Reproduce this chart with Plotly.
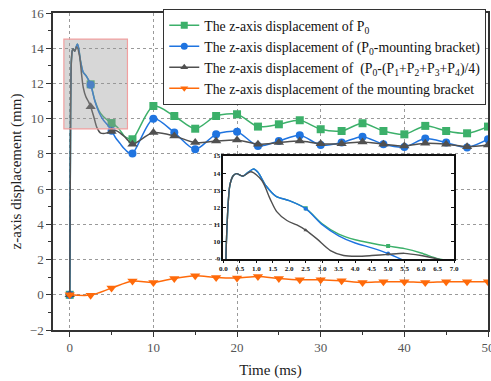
import plotly.graph_objects as go

# ---------------- data ----------------
# marker samples every 2.5 ms
t_mark = [0, 2.5, 5, 7.5, 10, 12.5, 15, 17.5, 20, 22.5, 25, 27.5, 30, 32.5, 35, 37.5, 40, 42.5, 45, 47.5, 50]
p0_mark = [0, 11.95, 9.75, 8.83, 10.72, 10.15, 9.43, 10.15, 10.25, 9.55, 9.68, 9.91, 9.40, 9.30, 9.74, 9.30, 9.11, 9.59, 9.30, 9.17, 9.55]
p0_br_mark = [0, 11.93, 9.32, 8.02, 10.0, 9.21, 8.26, 9.11, 9.26, 8.45, 8.73, 9.06, 8.50, 8.64, 8.98, 8.55, 8.39, 8.87, 8.64, 8.36, 8.83]
p0_avg_mark = [0, 10.68, 9.27, 8.55, 9.21, 9.02, 8.64, 8.73, 8.79, 8.55, 8.64, 8.73, 8.58, 8.58, 8.68, 8.55, 8.45, 8.60, 8.55, 8.41, 8.50]
bracket_mark = [0, -0.02, 0.38, 0.78, 0.70, 0.93, 1.08, 0.98, 0.95, 1.04, 0.93, 0.85, 0.85, 0.79, 0.70, 0.74, 0.74, 0.70, 0.74, 0.74, 0.74]

# early detail (0-7 ms)
t_early_a = [0, 0.1, 0.2, 0.3, 0.4, 0.6, 0.75, 0.92, 1.05, 1.3, 1.6, 2.0, 2.5, 3.0, 3.5, 4.0, 4.5, 5.0, 5.5, 6.0, 6.5, 7.0]
p0_early = [0, 10.3, 13.3, 13.85, 13.97, 13.83, 14.05, 14.24, 14.05, 13.25, 12.65, 12.4, 11.95, 11.05, 10.45, 10.12, 9.92, 9.75, 9.6, 9.35, 9.02, 8.88]
p0_br_early = [0, 10.3, 13.3, 13.85, 13.97, 13.83, 14.05, 14.24, 14.05, 13.25, 12.65, 12.4, 11.93, 11.0, 10.35, 9.93, 9.65, 9.32, 8.9, 8.6, 8.3, 8.08]
t_early_b = [0, 0.1, 0.2, 0.3, 0.4, 0.6, 0.84, 1.17, 1.42, 1.62, 1.93, 2.23, 2.5, 2.84, 3.25, 3.65, 4.06, 4.5, 5.0, 5.5, 6.0, 6.5, 7.0]
p0_avg_early = [0, 10.3, 13.3, 13.85, 13.97, 13.83, 14.08, 13.57, 12.5, 11.76, 11.24, 10.98, 10.68, 10.17, 9.49, 9.2, 9.16, 9.2, 9.27, 9.33, 9.2, 9.0, 8.75]

names = [
    "The z-axis displacement of P<sub>0</sub>",
    "The z-axis displacement of (P<sub>0</sub>-mounting bracket)",
    "The z-axis displacement of  (P<sub>0</sub>-(P<sub>1</sub>+P<sub>2</sub>+P<sub>3</sub>+P<sub>4</sub>)/4)",
    "The z-axis displacement of the mounting bracket",
]
colors = ["#3cb06a", "#1f74e0", "#505050", "#ff6a0a"]
symbols = ["square", "circle", "triangle-up", "triangle-down"]

x_ticks = [0, 10, 20, 30, 40, 50]
y_ticks = [-2, 0, 2, 4, 6, 8, 10, 12, 14, 16]

# ---------------- build ----------------
def line_series(t_e, v_e, vm):
    xs = list(t_e) + [t for t in t_mark if t > max(t_e)]
    ys = list(v_e) + [v for t, v in zip(t_mark, vm) if t > max(t_e)]
    return xs, ys

series = [
    line_series(t_early_a, p0_early, p0_mark),
    line_series(t_early_a, p0_br_early, p0_br_mark),
    line_series(t_early_b, p0_avg_early, p0_avg_mark),
    (t_mark, bracket_mark),
]
marks = [p0_mark, p0_br_mark, p0_avg_mark, bracket_mark]
msizes = [8, 8, 9, 9]

FONT = "Liberation Serif, 'Times New Roman', 'DejaVu Serif', serif"
fig = go.Figure()

# legend-only entries
for i in range(4):
    fig.add_trace(go.Scatter(x=[None], y=[None], mode="lines+markers", name=names[i],
                             line=dict(color=colors[i], width=1.5),
                             marker=dict(symbol=symbols[i], size=7, color=colors[i])))

# main plot
for i in range(4):
    xs, ys = series[i]
    fig.add_trace(go.Scatter(x=xs, y=ys, mode="lines", showlegend=False,
                             line=dict(color=colors[i], width=1.5, shape="spline", smoothing=0.8),
                             hoverinfo="skip"))
    fig.add_trace(go.Scatter(x=t_mark, y=marks[i], mode="markers", showlegend=False,
                             marker=dict(symbol=symbols[i], size=msizes[i], color=colors[i])))

# inset
for i in range(3):
    xs, ys = series[i]
    fig.add_trace(go.Scatter(x=xs, y=ys, mode="lines", showlegend=False, xaxis="x2", yaxis="y2",
                             line=dict(color=colors[i], width=1.4, shape="spline", smoothing=0.8)))
    fig.add_trace(go.Scatter(x=t_mark, y=marks[i], mode="markers", showlegend=False,
                             xaxis="x2", yaxis="y2",
                             marker=dict(symbol=symbols[i], size=4, color=colors[i])))

fig.add_shape(type="rect", xref="x", yref="y", x0=-0.7, x1=6.9, y0=9.42, y1=14.52,
              fillcolor="rgba(150,150,150,0.38)", line=dict(color="#f2a0a0", width=1.2),
              layer="above")

axis_common = dict(showline=True, linecolor="#333", linewidth=1.5, mirror=True,
                   ticks="outside", ticklen=5, tickcolor="#333", tickwidth=1,
                   showgrid=True, gridcolor="#9a9a9a", griddash="dot", gridwidth=1,
                   zeroline=False, ticklabeloverflow="allow",
                   tickfont=dict(family=FONT, size=13, color="#555"))

fig.update_layout(
    width=491, height=381,
    margin=dict(l=53, r=3, t=13, b=51, autoexpand=False),
    paper_bgcolor="white", plot_bgcolor="white",
    font=dict(family=FONT, color="#222"),
    showlegend=True,
    legend=dict(x=0.996, xanchor="right", y=1.013, yanchor="top",
                bgcolor="white", bordercolor="#333", borderwidth=1,
                font=dict(family=FONT, size=13.8, color="#111"),
                tracegroupgap=0),
    xaxis=dict(range=[-2, 50], tickvals=x_ticks, automargin=False,
               minor=dict(ticks="outside", ticklen=3, dtick=5, tick0=0, tickcolor="#333", showgrid=False),
               title=dict(text="Time (ms)", font=dict(family=FONT, size=15, color="#222"), standoff=10),
               **axis_common),
    yaxis=dict(range=[-2, 16], tickvals=y_ticks, automargin=True,
               minor=dict(ticks="outside", ticklen=3, dtick=1, tick0=0, tickcolor="#333", showgrid=False),
               title=dict(text="z-axis displacement (mm)", font=dict(family=FONT, size=15, color="#222"), standoff=5),
               **axis_common),
    xaxis2=dict(domain=[0.3915, 0.922], anchor="y2", range=[0, 7], dtick=0.5, tick0=0,
                tickformat=".1f", showgrid=False, zeroline=False, automargin=False,
                showline=True, linecolor="#111", linewidth=1.5, mirror=True,
                ticks="outside", ticklen=2, tickcolor="#111",
                tickfont=dict(family=FONT, size=7, color="#111", weight="bold")),
    yaxis2=dict(domain=[0.224, 0.549], anchor="x2", range=[9, 15], dtick=1, tick0=9,
                showgrid=False, zeroline=False, automargin=False,
                showline=True, linecolor="#111", linewidth=1.5, mirror="allticks",
                ticks="inside", ticklen=3, tickcolor="#111",
                tickfont=dict(family=FONT, size=7, color="#111", weight="bold")),
)

fig.write_html("out.html", config={"displayModeBar": False},
               post_script="document.body.style.margin='0px';document.body.style.padding='0px';")
